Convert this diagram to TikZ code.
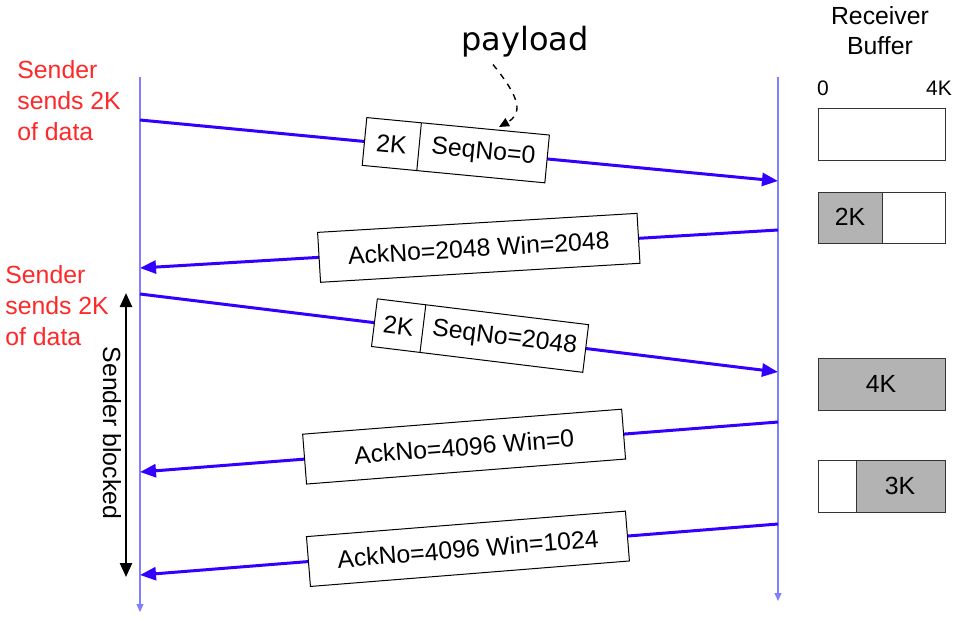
\documentclass[tikz,border=0pt]{standalone}
\usepackage{fontspec}
\setmainfont{Liberation Sans}
\newfontfamily\handfont{DejaVu Sans}
\usetikzlibrary{arrows.meta,shapes.multipart}
\definecolor{msgblue}{RGB}{51,0,255}
\definecolor{lineblue}{RGB}{128,128,255}
\definecolor{sendred}{RGB}{255,40,40}
\definecolor{bufgray}{RGB}{179,179,179}
\tikzset{
	timeline/.style={lineblue, line width=0.6pt, -{Triangle[length=4pt,width=3.5pt]}},
	msg/.style={msgblue, line width=1.5pt, -{Triangle[length=8pt,width=6.5pt]}},
	ackbox/.style={draw=black, text=black, line width=0.5pt, fill=white, sloped,
		minimum width=160pt, minimum height=25pt, inner sep=0pt},
	segbox/.style={draw=black, text=black, line width=0.5pt, fill=white, sloped, rectangle split,
		rectangle split horizontal, rectangle split parts=2, minimum height=24pt, inner xsep=6pt},
	redtext/.style={sendred, align=left, anchor=west, inner xsep=0pt},
	bufbox/.style={draw=black!80, line width=0.5pt}
}
\begin{document}
\begin{tikzpicture}[x=0.5pt, y=-0.5pt, every node/.style={font=\fontsize{12.4}{15.5}\selectfont}]
	\useasboundingbox (0,0) rectangle (953,618);
	% time lines
	\coordinate (stop) at (140,77);
	\coordinate (sbot) at (140,612);
	\coordinate (rtop) at (778,77);
	\coordinate (rbot) at (778,601);
	\draw[timeline] (stop) -- (sbot);
	\draw[timeline] (rtop) -- (rbot);
	% end points of the segments
	\coordinate (s1) at (140,120);  \coordinate (r1) at (778,181);
	\coordinate (r2) at (778,230);  \coordinate (s2) at (140,268);
	\coordinate (s3) at (140,294);  \coordinate (r3) at (778,372);
	\coordinate (r4) at (778,422);  \coordinate (s4) at (140,472);
	\coordinate (r5) at (778,524);  \coordinate (s5) at (140,575);
	\draw[msg] (s1) -- (r1) node[segbox, pos=0.495] (seq1) {2K \nodepart{two} SeqNo=0};
	\draw[msg] (r2) -- (s2) node[ackbox, pos=0.469] (ack1) {AckNo=2048 Win=2048};
	\draw[msg] (s3) -- (r3) node[segbox, pos=0.533, inner xsep=4.5pt] (seq2) {2K \nodepart{two} SeqNo=2048};
	\draw[msg] (r4) -- (s4) node[ackbox, pos=0.492] (ack2) {AckNo=4096 Win=0};
	\draw[msg] (r5) -- (s5) node[ackbox, pos=0.486] (ack3) {AckNo=4096 Win=1024};
	% payload
	\node (payload) at (525,42) {\handfont\fontsize{16}{18}\selectfont payload};
	\coordinate (payend) at (499,127);
	\draw[dashed, line width=0.7pt, -{Triangle[length=5pt,width=4.5pt]}] ([xshift=-16pt]payload.south)
		.. controls (522,100) and (522,114) .. (payend);
	% sender side
	\node[redtext] (send1) at (17,101) {Sender\\sends 2K\\of data};
	\node[redtext] (send2) at (5,306) {Sender\\sends 2K\\of data};
	\coordinate (btop) at (126,293);
	\coordinate (bbot) at (126,577);
	\draw[line width=1.2pt, {Triangle[length=7pt,width=6pt]}-{Triangle[length=7pt,width=6pt]}] (btop) -- (bbot);
	\node[rotate=-90] (blocked) at (112,433) {Sender blocked};
	% receiver buffer
	\node[align=center, font=\fontsize{12.4}{15}\selectfont] (rcvbuf) at (880,31) {Receiver\\Buffer};
	\node[font=\fontsize{10.5}{12}\selectfont] (zero) at (823,88) {0};
	\node[font=\fontsize{10.5}{12}\selectfont] (four) at (939,88) {4K};
	\draw[bufbox] (818,108) rectangle (945,160);
	\draw[bufbox, fill=bufgray] (818,192) rectangle (882,243);
	\draw[bufbox] (882,192) rectangle (945,243);
	\node (buf2) at (850,217) {2K};
	\draw[bufbox, fill=bufgray] (818,358) rectangle (945,410);
	\node (buf3) at (881,384) {4K};
	\draw[bufbox] (818,460) rectangle (856,512);
	\draw[bufbox, fill=bufgray] (856,460) rectangle (945,512);
	\node (buf4) at (900,486) {3K};
\end{tikzpicture}
\end{document}
